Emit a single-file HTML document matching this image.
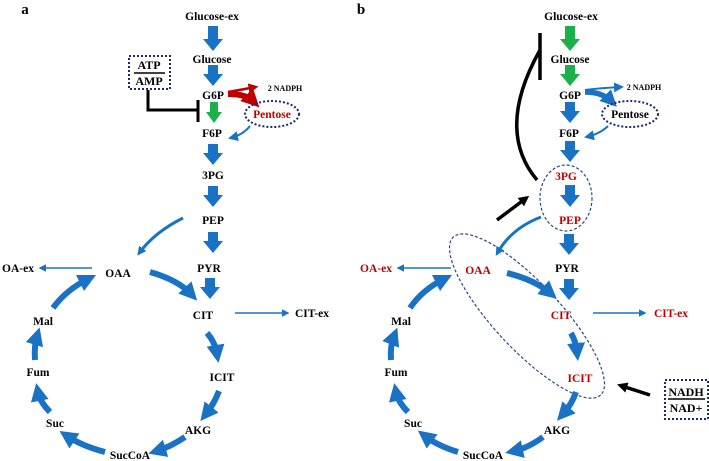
<!DOCTYPE html>
<html><head><meta charset="utf-8"><style>
html,body{margin:0;padding:0;background:#fff;}
svg{display:block;}
text{font-family:"Liberation Serif",serif;font-weight:bold;font-size:11.5px;text-anchor:middle;}
.r{fill:#c00000;}
</style></head><body>
<svg width="709" height="461" viewBox="0 0 709 461" xmlns="http://www.w3.org/2000/svg">
<defs>
<marker id="h" markerWidth="3" markerHeight="3" refX="1.5" refY="1.5" orient="auto" markerUnits="strokeWidth">
<path d="M0,0 L3,1.5 L0,3 z" fill="#1a72c4"/></marker>
<marker id="ht" markerWidth="5" markerHeight="5" refX="4" refY="2.5" orient="auto" markerUnits="strokeWidth">
<path d="M0,0 L5,2.5 L0,5 z" fill="#1a72c4"/></marker>
<marker id="hr" markerWidth="3" markerHeight="3" refX="1.5" refY="1.5" orient="auto" markerUnits="strokeWidth">
<path d="M0,0 L3,1.5 L0,3 z" fill="#c00000"/></marker>
<marker id="hrt" markerWidth="4" markerHeight="4" refX="3" refY="2" orient="auto" markerUnits="strokeWidth">
<path d="M0,0 L4,2 L0,4 z" fill="#c00000"/></marker>
<marker id="hb" markerWidth="3" markerHeight="3" refX="1.5" refY="1.5" orient="auto" markerUnits="strokeWidth">
<path d="M0,0 L3,1.5 L0,3 z" fill="#000"/></marker>
</defs>
<g id="A">
<text x="25" y="14" style="font-size:15px">a</text>
<text x="212" y="20">Glucose-ex</text>
<text x="212" y="63">Glucose</text>
<text x="213" y="99">G6P</text>
<text x="212" y="137">F6P</text>
<text x="213" y="179">3PG</text>
<text x="213" y="224">PEP</text>
<text x="209" y="272">PYR</text>
<text x="203" y="319">CIT</text>
<text x="222" y="381">ICIT</text>
<text x="198" y="434">AKG</text>
<text x="130" y="459">SucCoA</text>
<text x="55" y="427">Suc</text>
<text x="38" y="376">Fum</text>
<text x="43" y="325">Mal</text>
<text x="118" y="277">OAA</text>
<text x="18" y="272">OA-ex</text>
<text x="312" y="317">CIT-ex</text>
<text x="285" y="91" style="font-size:8px">2 NADPH</text>
<text x="272" y="118" class="r">Pentose</text>
<g fill="#1a72c4">
<polygon points="208,26 218,26 218,39 223,39 213,51 203,39 208,39"/>
<polygon points="208,65 218,65 218,74 223,74 213,86 203,74 208,74"/>
<polygon points="208,144 218,144 218,153 223,153 213,165 203,153 208,153"/>
<polygon points="208,186 218,186 218,195 223,195 213,207 203,195 208,195"/>
<polygon points="208,232 218,232 218,241 223,241 213,253 203,241 208,241"/>
<polygon points="205,278 215,278 215,287 220,287 210,299 200,287 205,287"/>
</g>
<polygon points="210,102 218,102 218,112 222,112 214,123 206,112 210,112" fill="#1bb04a"/>
<rect x="129" y="56" width="41" height="33" fill="none" stroke="#1a2a6c" stroke-width="2" stroke-dasharray="2,2"/>
<text x="149" y="69" style="font-size:12px">ATP</text>
<line x1="134" y1="73" x2="165" y2="73" stroke="#000" stroke-width="1.5"/>
<text x="149" y="85" style="font-size:12px">AMP</text>
<polyline points="148,90 148,110 198,110" fill="none" stroke="#000" stroke-width="3"/>
<line x1="198" y1="100" x2="198" y2="122" stroke="#000" stroke-width="3"/>
<path d="M228,92 Q245,89 256,87" stroke="#c00000" stroke-width="2.5" fill="none" marker-end="url(#hrt)"/>
<path d="M228,94 Q246,94 253,101" stroke="#c00000" stroke-width="6" fill="none" marker-end="url(#hr)"/>
<ellipse cx="272" cy="114" rx="27" ry="13" fill="none" stroke="#1a2a6c" stroke-width="2" stroke-dasharray="2,2"/>
<path d="M250,126 Q243,135 230,138" stroke="#1a72c4" stroke-width="2" fill="none" style="marker-end:url(#ht)"/>
<path d="M183,218 Q155,232 140,252" stroke="#1a72c4" stroke-width="3" fill="none" marker-end="url(#h)"/>
<line x1="92" y1="268" x2="40" y2="268" stroke="#1a72c4" stroke-width="1.5" marker-end="url(#ht)"/>
<line x1="235" y1="313" x2="288" y2="313" stroke="#1a72c4" stroke-width="1.5" marker-end="url(#ht)"/>
<g stroke="#1a72c4" stroke-width="6" fill="none" marker-end="url(#h)">
<path d="M150,272 Q178,280 191,294"/>
<path d="M207,333 Q215,342 217,354"/>
<path d="M219,391 Q214,404 206,414"/>
<path d="M185,437 Q170,447 157,451"/>
<path d="M105,452 Q82,446 67,436"/>
<path d="M50,412 Q40,402 38,392"/>
<path d="M35,360 Q34,346 37,336"/>
<path d="M53,308 Q66,290 88,279"/>
</g>
</g>
<g id="B">
<text x="361" y="14" style="font-size:15px">b</text>
<text x="571" y="20">Glucose-ex</text>
<text x="570" y="63">Glucose</text>
<text x="570" y="99">G6P</text>
<text x="569" y="137">F6P</text>
<text x="566" y="180" class="r">3PG</text>
<text x="570" y="224" class="r">PEP</text>
<text x="567" y="272">PYR</text>
<text x="478" y="274" class="r">OAA</text>
<text x="376" y="272" class="r">OA-ex</text>
<text x="561" y="319" class="r">CIT</text>
<text x="671" y="317" class="r">CIT-ex</text>
<text x="580" y="382" class="r">ICIT</text>
<text x="557" y="434">AKG</text>
<text x="483" y="459">SucCoA</text>
<text x="413" y="427">Suc</text>
<text x="396" y="376">Fum</text>
<text x="401" y="325">Mal</text>
<text x="644" y="90" style="font-size:8px">2 NADPH</text>
<text x="630" y="118">Pentose</text>
<g fill="#1bb04a">
<polygon points="565,26 575,26 575,39 580,39 570,51 560,39 565,39"/>
<polygon points="565,65 575,65 575,74 580,74 570,86 560,74 565,74"/>
</g>
<g fill="#1a72c4">
<polygon points="565,102 575,102 575,111 580,111 570,123 560,111 565,111"/>
<polygon points="565,141 575,141 575,150 580,150 570,162 560,150 565,150"/>
<polygon points="565,185 575,185 575,195 580,195 570,207 560,195 565,195"/>
<polygon points="564,234 574,234 574,243 579,243 569,255 559,243 564,243"/>
<polygon points="564,279 574,279 574,288 579,288 569,300 559,288 564,288"/>
</g>
<path d="M585,90 Q600,88 622,87" stroke="#1a72c4" stroke-width="2" fill="none" style="marker-end:url(#ht)"/>
<path d="M585,92 Q602,92 611,101" stroke="#1a72c4" stroke-width="5.5" fill="none" marker-end="url(#h)"/>
<ellipse cx="630" cy="114" rx="28" ry="13" fill="none" stroke="#1a2a6c" stroke-width="2" stroke-dasharray="2,2"/>
<path d="M608,126 Q600,134 586,137" stroke="#1a72c4" stroke-width="2" fill="none" style="marker-end:url(#ht)"/>
<ellipse cx="566" cy="198" rx="26" ry="33" fill="none" stroke="#2a4a80" stroke-width="1.2" stroke-dasharray="3,2"/>
<ellipse cx="527" cy="316" rx="108" ry="33" transform="rotate(47 527 316)" fill="none" stroke="#2a4a80" stroke-width="1.2" stroke-dasharray="3,2"/>
<path d="M537,180 Q495,130 540,50" stroke="#000" stroke-width="3.5" fill="none"/>
<line x1="540" y1="33" x2="540" y2="80" stroke="#000" stroke-width="3.5"/>
<line x1="497" y1="220" x2="525" y2="199" stroke="#000" stroke-width="3.5" marker-end="url(#hb)"/>
<line x1="650" y1="395" x2="622" y2="386" stroke="#000" stroke-width="3.5" marker-end="url(#hb)"/>
<rect x="665" y="380" width="43" height="39" fill="none" stroke="#1a2a6c" stroke-width="2" stroke-dasharray="2,2"/>
<text x="686" y="396" style="font-size:12px">NADH</text>
<line x1="668" y1="399" x2="705" y2="399" stroke="#000" stroke-width="1.5"/>
<text x="686" y="412" style="font-size:12px">NAD+</text>
<path d="M541,217 Q512,228 498,252" stroke="#1a72c4" stroke-width="3" fill="none" marker-end="url(#h)"/>
<line x1="451" y1="268" x2="398" y2="268" stroke="#1a72c4" stroke-width="1.5" marker-end="url(#ht)"/>
<line x1="593" y1="313" x2="645" y2="313" stroke="#1a72c4" stroke-width="1.5" marker-end="url(#ht)"/>
<g stroke="#1a72c4" stroke-width="6" fill="none" marker-end="url(#h)">
<path d="M507,273 Q535,280 550,293"/>
<path d="M571,333 Q576,342 577,352"/>
<path d="M576,392 Q572,404 563,414"/>
<path d="M543,437 Q528,448 514,451"/>
<path d="M458,452 Q438,446 425,436"/>
<path d="M408,412 Q398,402 396,392"/>
<path d="M391,360 Q390,346 394,336"/>
<path d="M410,308 Q422,290 444,279"/>
</g>
</g>
</svg>
</body></html>
